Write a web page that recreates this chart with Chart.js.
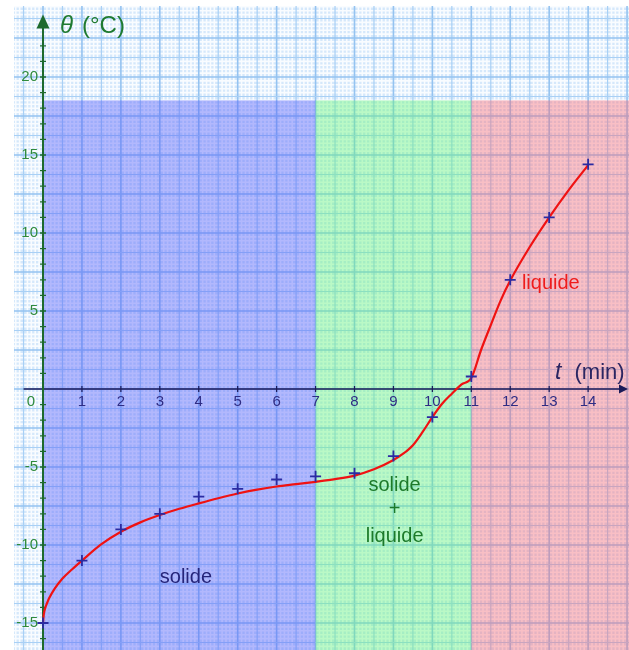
<!DOCTYPE html>
<html>
<head>
<meta charset="utf-8">
<script src="https://cdn.jsdelivr.net/npm/chart.js@4/dist/chart.umd.min.js"></script>
<style>
  html, body { margin: 0; padding: 0; background: #ffffff; }
  #wrap { width: 629px; height: 650px; }
</style>
</head>
<body>
<div id="wrap"><canvas id="c" width="629" height="650"></canvas></div>
<script>
// Measured temperatures during melting (t in min, θ in °C)
const times = [0, 1, 2, 3, 4, 5, 6, 7, 8, 9, 10, 11, 12, 13, 14];
const temps = [-15, -11, -9, -8, -6.9, -6.4, -5.8, -5.6, -5.4, -4.3, -1.8, 0.8, 7, 11, 14.4];

// Smoothed trend curve drawn through the measurements
const fitTimes = [0, 0.02, 0.05, 0.1, 0.15, 0.3, 0.5, 0.75, 1, 1.5, 2, 2.5, 3, 3.5, 4, 4.5, 5, 5.5, 6, 6.5, 7, 7.5, 8, 8.5, 9, 9.25, 9.5, 9.75, 10, 10.25, 10.5, 10.75, 11, 11.25, 11.5, 11.75, 12, 12.5, 13, 13.5, 14];
const fitTemps = [-15, -14.45, -14.1, -13.75, -13.45, -12.8, -12.15, -11.55, -11.0, -9.95, -9.15, -8.55, -8.08, -7.68, -7.33, -7.0, -6.7, -6.45, -6.25, -6.1, -5.95, -5.78, -5.55, -5.15, -4.55, -4.15, -3.6, -2.75, -1.8, -0.95, -0.3, 0.3, 0.7, 2.5, 4.1, 5.65, 6.95, 9.1, 11.0, 12.75, 14.35];

// Phase zones: boundaries in min and upper limit in °C
const phaseBounds = [0, 7, 11, 15.2];
const phaseTop = 18.5;

// Axis tick labels
const xTickValues = [1, 2, 3, 4, 5, 6, 7, 8, 9, 10, 11, 12, 13, 14];
const yTickValues = [-15, -10, -5, 5, 10, 15, 20];

const FONT = '"Liberation Sans", Arial, Helvetica, sans-serif';

const paperPlugin = {
  id: 'paper',
  beforeDatasetsDraw(chart) {
    const { ctx, chartArea: a, scales: { x, y } } = chart;
    const X = v => x.getPixelForValue(v);
    const Y = v => y.getPixelForValue(v);
    ctx.save();
    ctx.beginPath();
    ctx.rect(a.left, a.top, a.right - a.left, a.bottom - a.top);
    ctx.clip();

    // graph paper background
    ctx.fillStyle = '#d5e8fb';
    ctx.fillRect(a.left, a.top, a.right - a.left, a.bottom - a.top);

    // fine grid (0.1 min / 0.25 °C)
    ctx.strokeStyle = 'rgba(255,255,255,0.85)';
    ctx.lineWidth = 1.6;
    ctx.beginPath();
    for (let i = Math.ceil(x.min / 0.1); i <= Math.floor(x.max / 0.1); i++) {
      if (i % 5 === 0) continue;
      const px = X(i * 0.1);
      ctx.moveTo(px, a.top); ctx.lineTo(px, a.bottom);
    }
    for (let j = Math.ceil(y.min / 0.25); j <= Math.floor(y.max / 0.25); j++) {
      if (j % 5 === 0) continue;
      const py = Y(j * 0.25);
      ctx.moveTo(a.left, py); ctx.lineTo(a.right, py);
    }
    ctx.stroke();

    // main grid (0.5 min / 1.25 °C), heavier every 1 min / 2.5 °C
    for (let i = Math.ceil(x.min / 0.5); i <= Math.floor(x.max / 0.5); i++) {
      const px = X(i * 0.5);
      ctx.strokeStyle = i % 2 === 0 ? '#95c3f0' : '#a9d0f5';
      ctx.lineWidth = i % 2 === 0 ? 1.6 : 1.2;
      ctx.beginPath(); ctx.moveTo(px, a.top); ctx.lineTo(px, a.bottom); ctx.stroke();
    }
    for (let j = Math.ceil(y.min / 1.25); j <= Math.floor(y.max / 1.25); j++) {
      const py = Y(j * 1.25);
      ctx.strokeStyle = j % 2 === 0 ? '#95c3f0' : '#a9d0f5';
      ctx.lineWidth = j % 2 === 0 ? 1.6 : 1.2;
      ctx.beginPath(); ctx.moveTo(a.left, py); ctx.lineTo(a.right, py); ctx.stroke();
    }

    // phase zones
    const zoneColors = ['rgba(80,90,250,0.42)', 'rgba(100,245,120,0.42)', 'rgba(250,100,110,0.40)'];
    for (let k = 0; k < zoneColors.length; k++) {
      const l = X(phaseBounds[k]), r = X(phaseBounds[k + 1]);
      const t = Y(phaseTop);
      ctx.fillStyle = zoneColors[k];
      ctx.fillRect(l, t, r - l, a.bottom - t);
    }

    const x0 = X(0), y0 = Y(0);

    // horizontal axis (t)
    ctx.strokeStyle = '#1b1b58';
    ctx.lineWidth = 1.6;
    ctx.beginPath(); ctx.moveTo(X(-0.5), y0); ctx.lineTo(a.right - 4, y0); ctx.stroke();
    ctx.fillStyle = '#1b1b58';
    ctx.beginPath();
    ctx.moveTo(a.right - 1, y0); ctx.lineTo(a.right - 10, y0 - 4.5); ctx.lineTo(a.right - 10, y0 + 4.5); ctx.closePath(); ctx.fill();
    ctx.lineWidth = 1.2;
    ctx.beginPath();
    for (const v of xTickValues) { const px = X(v); ctx.moveTo(px, y0 - 3); ctx.lineTo(px, y0 + 3); }
    ctx.stroke();

    // vertical axis (θ)
    const tipY = Y(24.0);
    ctx.strokeStyle = '#1d6a2d';
    ctx.lineWidth = 2;
    ctx.beginPath(); ctx.moveTo(x0, tipY + 10); ctx.lineTo(x0, a.bottom); ctx.stroke();
    ctx.fillStyle = '#1d6a2d';
    ctx.beginPath(); ctx.moveTo(x0, tipY); ctx.lineTo(x0 - 6.5, tipY + 14); ctx.lineTo(x0 + 6.5, tipY + 14); ctx.closePath(); ctx.fill();
    ctx.lineWidth = 1.3;
    ctx.beginPath();
    for (let v = Math.ceil(y.min); v <= 22; v++) {
      if (v === 0) continue;
      const py = Y(v); ctx.moveTo(x0 - 3, py); ctx.lineTo(x0 + 3, py);
    }
    ctx.stroke();
    ctx.restore();

    // tick labels
    ctx.save();
    ctx.font = '15px ' + FONT;
    ctx.textBaseline = 'middle';
    ctx.textAlign = 'center';
    ctx.fillStyle = '#2e2c84';
    for (const v of xTickValues) ctx.fillText(String(v), X(v), y0 + 13);
    ctx.textAlign = 'right';
    ctx.fillStyle = '#2f8a3c';
    for (const v of yTickValues) ctx.fillText(String(v), x0 - 5, Y(v));
    ctx.fillText('0', x0 - 8, y0 + 13);
    ctx.restore();
  },
  afterDatasetsDraw(chart) {
    const { ctx, scales: { x, y } } = chart;
    const X = v => x.getPixelForValue(v);
    const Y = v => y.getPixelForValue(v);
    ctx.save();
    ctx.textBaseline = 'alphabetic';

    // axis titles
    ctx.fillStyle = '#1f7a30';
    ctx.textAlign = 'left';
    ctx.font = 'italic 24px ' + FONT;
    ctx.fillText('θ', X(0) + 17, Y(0) - 356);
    ctx.font = '24px ' + FONT;
    ctx.fillText('(°C)', X(0) + 39, Y(0) - 356);

    ctx.fillStyle = '#2b2662';
    ctx.font = 'italic 23px ' + FONT;
    ctx.fillText('t', X(13.15), Y(-0.3) - 15);
    ctx.font = '22px ' + FONT;
    ctx.fillText('(min)', X(13.65), Y(-0.3) - 15);

    // phase names
    ctx.font = '20px ' + FONT;
    ctx.textAlign = 'center';
    ctx.fillStyle = '#25257a';
    ctx.fillText('solide', X(3.67), Y(-12.45));
    ctx.fillStyle = '#1c7a2a';
    ctx.fillText('solide', X(9.03), Y(-6.55));
    ctx.fillText('+', X(9.03), Y(-8.1));
    ctx.fillText('liquide', X(9.03), Y(-9.8));
    ctx.fillStyle = '#ee1c1c';
    ctx.textAlign = 'left';
    ctx.fillText('liquide', X(12.3), Y(6.4));
    ctx.restore();
  }
};

new Chart(document.getElementById('c'), {
  type: 'scatter',
  data: {
    datasets: [
      {
        label: 'courbe',
        type: 'line',
        data: fitTimes.map((t, i) => ({ x: t, y: fitTemps[i] })),
        borderColor: '#f01212',
        borderWidth: 2.2,
        pointRadius: 0,
        cubicInterpolationMode: 'monotone',
        fill: false,
        order: 2
      },
      {
        label: 'mesures',
        data: times.map((t, i) => ({ x: t, y: temps[i] })),
        pointStyle: 'cross',
        pointRadius: 5.5,
        pointBorderWidth: 1.8,
        borderColor: '#2b2ba2',
        backgroundColor: '#2b2ba2',
        order: 1
      }
    ]
  },
  options: {
    responsive: false,
    animation: false,
    events: [],
    layout: { autoPadding: false, padding: { left: 14, top: 6, right: 0, bottom: 0 } },
    scales: {
      x: { type: 'linear', min: -0.745, max: 15.05, display: false },
      y: { type: 'linear', min: -16.73, max: 24.55, display: false }
    },
    plugins: {
      legend: { display: false },
      tooltip: { enabled: false }
    }
  },
  plugins: [paperPlugin]
});
</script>
</body>
</html>
